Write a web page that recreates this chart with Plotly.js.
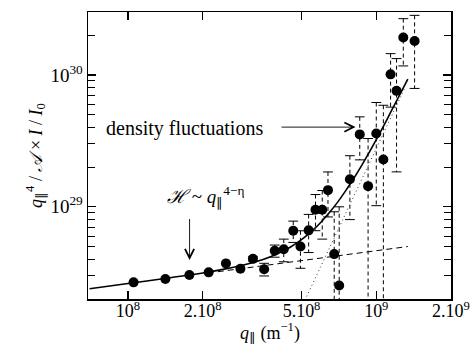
<!DOCTYPE html>
<html>
<head>
<meta charset="utf-8">
<script src="https://cdn.plot.ly/plotly-3.0.1.min.js"></script>
<style>html,body{margin:0;padding:0;background:#fff;}#chart{width:475px;height:344px;}</style>
</head>
<body>
<div id="chart"></div>
<script>
// ---- data ----
const qPar = [1.053e8, 1.414e8, 1.767e8, 2.113e8, 2.48e8, 2.837e8, 3.186e8, 3.535e8, 3.90e8, 4.24e8,
              4.63e8, 4.95e8, 5.34e8, 5.69e8, 6.06e8, 6.39e8, 6.77e8, 7.09e8, 7.83e8, 8.58e8,
              9.27e8, 1.0e9, 1.068e9, 1.142e9, 1.207e9, 1.285e9, 1.427e9];
const intensity = [2.675e28, 2.834e28, 3.04e28, 3.185e28, 3.725e28, 3.39e28, 4.03e28, 3.36e28, 4.64e28, 4.76e28,
                   6.58e28, 5.0e28, 6.63e28, 9.49e28, 9.49e28, 1.338e29, 4.38e28, 2.53e28, 1.62e29, 3.54e29,
                   1.435e29, 3.60e29, 2.286e29, 1.01e30, 7.57e29, 1.92e30, 1.81e30];
const intensityErr = [0, 0, 0, 0, 0, 0, 0.15e28, 0.37e28, 0.49e28, 0.93e28,
                      1.21e28, 1.58e28, 2.13e28, 2.9e28, 3.8e28, 5.0e28, 4.79e28, 7.47e28, 0.82e29, 1.27e29,
                      1.86e29, 2.58e29, 3.6e29, 0.44e30, 5.73e29, 0.75e30, 1.02e30];

// total fit curve (solid)
const fitQ = [7e7, 1e8, 1.5e8, 2e8, 2.5e8, 3e8, 3.5e8, 4e8, 4.5e8, 5e8, 5.5e8, 6e8, 6.5e8, 7e8,
              7.5e8, 8e8, 8.5e8, 9e8, 1e9, 1.1e9, 1.2e9, 1.34e9];
const fitI = [2.39e28, 2.62e28, 2.91e28, 3.15e28, 3.40e28, 3.67e28, 3.99e28, 4.41e28, 4.94e28, 5.64e28,
              6.54e28, 7.68e28, 9.12e28, 1.09e29, 1.31e29, 1.575e29, 1.89e29, 2.27e29, 3.235e29,
              4.53e29, 6.23e29, 9.3e29];
// Helfrich (low-q) contribution, dashed
const helfQ = [2.3e8, 1.34e9];
const helfI = [3.22e28, 5.0e28];
// density fluctuation contribution, dotted
const densQ = [5.0e8, 1.3e9];
const densI = [1.73e28, 7.9e29];

const yTickVals = [1e29, 1e30];
const yTickText = ['10<sup>29</sup>', '10<sup>30</sup>'];
const yMinorVals = [3e28, 4e28, 5e28, 6e28, 7e28, 8e28, 9e28,
                    2e29, 3e29, 4e29, 5e29, 6e29, 7e29, 8e29, 9e29, 2e30];
const xTickVals = [1e8, 2e8, 5e8, 1e9, 2e9];
const xTickText = ['10<sup>8</sup>', '2.10<sup>8</sup>', '5.10<sup>8</sup>', '10<sup>9</sup>', '2.10<sup>9</sup>'];
const xTitle = '<i>q</i><sub>∥</sub> (m<sup>−1</sup>)';
const yTitle = '<i>q</i><sub>∥</sub><sup>4</sup> / <i>𝒜</i> × <i>I</i> / <i>I</i><sub>0</sub>';

// ---- build error bar segments (dashed) from the data ----
const ebX = [], ebY = [], capX = [], capY = [];
const yFloor = 1e27; // below the visible range: bar runs off the bottom
for (let i = 0; i < qPar.length; i++) {
  const e = intensityErr[i];
  if (!e) continue;
  const hi = intensity[i] + e;
  const lo = intensity[i] - e;
  ebX.push(qPar[i], qPar[i], null);
  ebY.push(hi, lo > 0 ? lo : yFloor, null);
  capX.push(qPar[i]); capY.push(hi);
  if (lo > 0) { capX.push(qPar[i]); capY.push(lo); }
}

const FONT = 'Liberation Serif, Times New Roman, serif';

const traces = [
  { x: ebX, y: ebY, mode: 'lines', line: {color: '#000', width: 1, dash: '4px,3px'}, hoverinfo: 'skip', showlegend: false },
  { x: capX, y: capY, mode: 'markers', marker: {symbol: 'line-ew-open', size: 7, color: '#000', line: {color: '#000', width: 1}}, hoverinfo: 'skip', showlegend: false },
  { x: helfQ, y: helfI, mode: 'lines', line: {color: '#000', width: 1, dash: '6px,4px'}, showlegend: false },
  { x: densQ, y: densI, mode: 'lines', line: {color: '#333', width: 1, dash: '1px,3px'}, showlegend: false },
  { x: fitQ, y: fitI, mode: 'lines', line: {color: '#000', width: 1.6, shape: 'spline'}, showlegend: false },
  { x: qPar, y: intensity, mode: 'markers', marker: {color: '#000', size: 10}, showlegend: false }
];

const layout = {
  width: 475, height: 344,
  margin: {l: 88, r: 24, t: 12, b: 45},
  paper_bgcolor: '#fff', plot_bgcolor: '#fff',
  font: {family: FONT, size: 19, color: '#000'},
  showlegend: false,
  xaxis: {
    type: 'log', range: [Math.log10(6.9e7), Math.log10(2.0e9)],
    showgrid: false, zeroline: false,
    showline: true, linecolor: '#000', linewidth: 1.5, mirror: 'ticks',
    ticks: 'inside', ticklen: 8, tickwidth: 1.2, tickcolor: '#000',
    tickmode: 'array', tickvals: xTickVals, ticktext: xTickText,
    tickfont: {family: FONT, size: 18}, ticklabelstandoff: -5
  },
  yaxis: {
    type: 'log', range: [Math.log10(2e28), Math.log10(3e30)],
    showgrid: false, zeroline: false,
    showline: true, linecolor: '#000', linewidth: 1.5, mirror: 'ticks',
    ticks: 'inside', ticklen: 8, tickwidth: 1.2, tickcolor: '#000',
    tickmode: 'array', tickvals: yTickVals, ticktext: yTickText,
    tickfont: {family: FONT, size: 19},
    minor: {tickmode: 'array', tickvals: yMinorVals, ticks: 'inside', ticklen: 7, tickwidth: 1, tickcolor: '#000', showgrid: false},
    title: {text: yTitle, font: {family: FONT, size: 18}}
  },
  annotations: [
    { x: 0.5, y: 0, xref: 'paper', yref: 'paper', text: xTitle, showarrow: false, borderpad: 0,
      xanchor: 'center', yanchor: 'middle', yshift: -33, font: {family: FONT, size: 18} },
    { x: Math.log10(8.25e8), y: Math.log10(4.02e29), xref: 'x', yref: 'y', text: ' ', showarrow: true,
      ax: -78, ay: 0, arrowhead: 5, arrowsize: 2.0, arrowwidth: 0.9, arrowcolor: '#000' },
    { x: Math.log10(8.25e8), y: Math.log10(4.02e29), xref: 'x', yref: 'y', text: 'density fluctuations',
      showarrow: false, xanchor: 'right', yanchor: 'middle', xshift: -91, yshift: -1, font: {family: FONT, size: 20} },
    { x: Math.log10(1.77e8), y: Math.log10(3.95e28), xref: 'x', yref: 'y', text: ' ', showarrow: true,
      ax: 0, ay: -53, arrowhead: 5, arrowsize: 2.0, arrowwidth: 0.9, arrowcolor: '#000' },
    { x: Math.log10(1.77e8), y: Math.log10(3.95e28), xref: 'x', yref: 'y',
      text: '<i>ℋ</i> ~ <i>q</i><sub>∥</sub><sup>4−η</sup>',
      showarrow: false, xanchor: 'center', yanchor: 'middle', xshift: 16, yshift: 64, font: {family: FONT, size: 19} }
  ]
};

Plotly.newPlot('chart', traces, layout, {staticPlot: true, displayModeBar: false});
</script>
</body>
</html>
